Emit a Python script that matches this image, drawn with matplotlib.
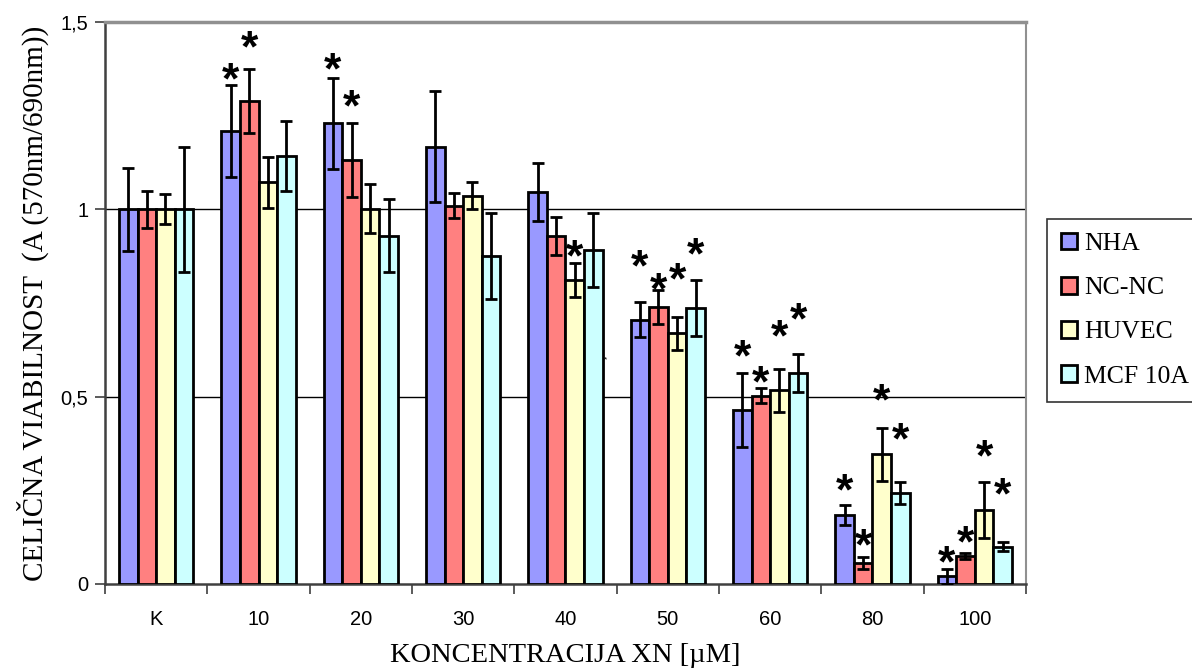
"""Cell viability of four cell lines across XN concentrations (grouped bars)."""

import matplotlib.pyplot as plt
import numpy as np

categories = ["K", "10", "20", "30", "40", "50", "60", "80", "100"]
series_names = ["NHA", "NC-NC", "HUVEC", "MCF 10A"]
series_colors = ["#9999FF", "#FF8080", "#FFFFCC", "#CCFFFF"]

nha = [1.00, 1.209, 1.230, 1.168, 1.047, 0.706, 0.464, 0.184, 0.020]
ncnc = [1.00, 1.290, 1.132, 1.010, 0.929, 0.739, 0.503, 0.055, 0.075]
huvec = [1.00, 1.073, 1.002, 1.037, 0.811, 0.669, 0.517, 0.346, 0.197]
mcf = [1.00, 1.143, 0.930, 0.876, 0.892, 0.737, 0.563, 0.242, 0.100]

nha_err = [0.110, 0.123, 0.122, 0.147, 0.077, 0.047, 0.098, 0.027, 0.019]
ncnc_err = [0.050, 0.085, 0.100, 0.033, 0.051, 0.045, 0.020, 0.016, 0.009]
huvec_err = [0.040, 0.068, 0.066, 0.036, 0.045, 0.044, 0.057, 0.070, 0.074]
mcf_err = [0.167, 0.094, 0.097, 0.114, 0.098, 0.074, 0.051, 0.029, 0.013]

# height of the significance asterisks (None = no mark)
nha_star = [None, 1.377, 1.403, None, None, 0.878, 0.638, 0.278, 0.086]
ncnc_star = [None, 1.461, 1.305, None, None, 0.816, 0.567, 0.131, 0.140]
huvec_star = [None, None, None, None, 0.905, 0.843, 0.691, 0.518, 0.371]
mcf_star = [None, None, None, None, None, 0.909, 0.736, 0.416, 0.269]

values = [nha, ncnc, huvec, mcf]
errors = [nha_err, ncnc_err, huvec_err, mcf_err]
stars = [nha_star, ncnc_star, huvec_star, mcf_star]

SERIF = ["Liberation Serif", "DejaVu Serif"]
SANS = ["Liberation Sans", "DejaVu Sans"]
STAR_FS = 32

fig = plt.figure(figsize=(11.92, 6.72), dpi=100)
ax = fig.add_axes([0.0881, 0.131, 0.7726, 0.836])

x = np.arange(len(categories))
width = 0.182
offsets = (np.arange(4) - 1.5) * width

for vals, errs, marks, name, color, off in zip(
    values, errors, stars, series_names, series_colors, offsets
):
    ax.bar(
        x + off, vals, width, color=color, edgecolor="black", linewidth=2,
        label=name, zorder=3,
    )
    ax.errorbar(
        x + off, vals, yerr=errs, fmt="none", ecolor="black", elinewidth=2,
        capsize=4.5, capthick=2, zorder=4,
    )
    for xi, sy in zip(x + off, marks):
        if sy is None:
            continue
        ax.annotate(
            "*", (xi, sy), xytext=(0, -0.56 * STAR_FS), textcoords="offset points",
            ha="center", va="baseline", fontsize=STAR_FS, fontweight="bold",
            family=SANS, zorder=5,
        )

# stray tiny asterisk present in the original figure
ax.annotate("*", (4.39, 0.598), ha="center", va="center", fontsize=6, family=SANS)

ax.set_xlim(-0.5, len(categories) - 0.5)
ax.set_ylim(0, 1.5)
ax.set_yticks([0, 0.5, 1, 1.5])
ax.set_yticklabels(["0", "0,5", "1", "1,5"], family=SANS, fontsize=14.5)
ax.set_xticks(x)
ax.set_xticklabels(categories, family=SANS, fontsize=14.5)
ax.set_xticks(np.arange(len(categories) + 1) - 0.5, minor=True)
ax.tick_params(axis="x", which="major", length=0, pad=19)
ax.tick_params(axis="x", which="minor", length=7, width=1.2, color="#404040")
ax.tick_params(axis="y", length=7, width=1.2, color="#404040", pad=5)

for yv in (0.5, 1.0):
    ax.axhline(yv, color="black", linewidth=1, zorder=1)

ax.spines["top"].set_color("#909090")
ax.spines["top"].set_linewidth(2.5)
ax.spines["right"].set_color("#909090")
ax.spines["right"].set_linewidth(1.5)
ax.spines["left"].set_color("#404040")
ax.spines["left"].set_linewidth(1.8)
ax.spines["bottom"].set_color("#404040")
ax.spines["bottom"].set_linewidth(1.8)

ax.set_ylabel("CELIČNA VIABILNOST  (A (570nm/690nm))", family=SERIF, fontsize=21, labelpad=8)
ax.set_xlabel("KONCENTRACIJA XN [µM]", family=SERIF, fontsize=20.5, labelpad=10)

leg = fig.legend(
    loc="upper left", bbox_to_anchor=(1047 / 1192, 1 - 219 / 672),
    prop={"family": SERIF, "size": 18.5}, frameon=True, fancybox=False,
    edgecolor="black", handlelength=0.6, handleheight=0.6, handletextpad=0.3,
    labelspacing=0.85, borderpad=0.55, borderaxespad=0,
)
leg.get_frame().set_linewidth(1.2)
for h in leg.legend_handles:
    h.set_linewidth(2)

fig.savefig("out.png", dpi=100)
